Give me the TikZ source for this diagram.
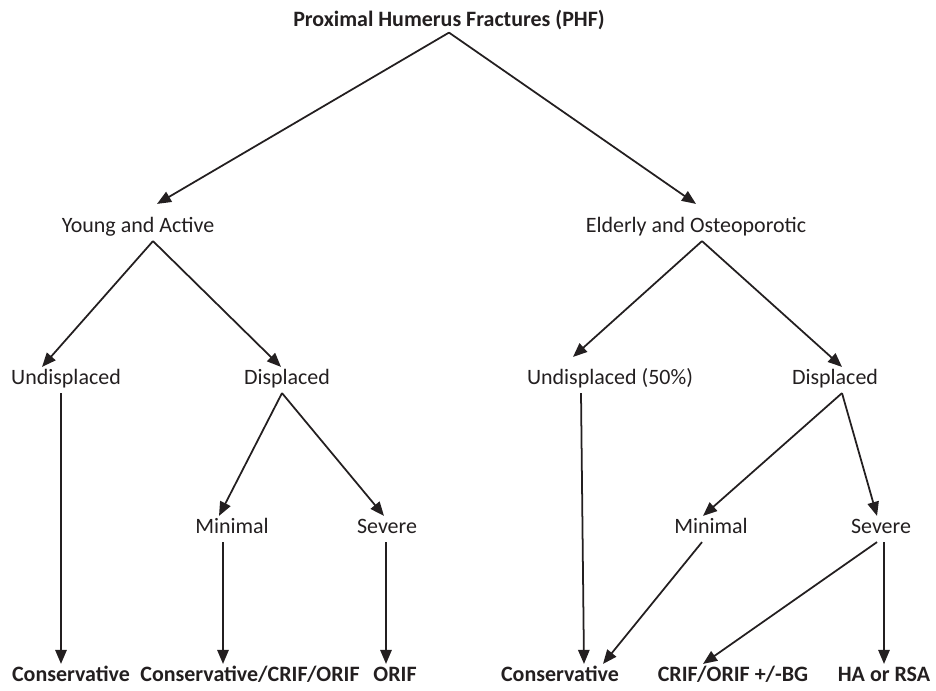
\documentclass[tikz,border=0pt]{standalone}
\usepackage{fontspec}
\setmainfont{Carlito}
\usetikzlibrary{arrows.meta}
\definecolor{ink}{RGB}{35,31,32}

\begin{document}
\begin{tikzpicture}[
    x=0.02cm, y=-0.02cm,
    lab/.style={text=ink, font=\fontsize{12.5}{14}\selectfont, text height=8pt, text depth=2.5pt, inner xsep=1pt, inner ysep=2pt},
    head/.style={lab, font=\fontsize{12.5}{14}\selectfont\bfseries},
    arr/.style={-{Triangle[length=8pt,width=6.5pt]}, line width=1pt, draw=ink}
]
\useasboundingbox (0,0) rectangle (936,690);
% ---------------- top level ----------------
\node[head] (phf) at (449,22) {Proximal Humerus Fractures (PHF)};
\node[lab] (yng) at (138,228) {Young and Active};
\node[lab] (eld) at (696,228) {Elderly and Osteoporotic};
\draw[arr] ([yshift=0.05cm]phf.south) -- ([xshift=0.38cm,yshift=0.22cm]yng.north);
\draw[arr] ([yshift=0.05cm]phf.south) -- ([yshift=0.22cm]eld.north);
% ---------------- young and active ----------------
\node[lab] (undL) at (66,380) {Undisplaced};
\node[lab] (disL) at (287,380) {Displaced};
\node[lab] (minL) at (232,529) {Minimal};
\node[lab] (sevL) at (387,529) {Severe};
\node[head] (consL) at (71,677) {Conservative};
\node[head] (cons2) at (250,677) {Conservative/CRIF/ORIF};
\node[head] (orif) at (395,677) {ORIF};
\draw[arr] ([xshift=0.3cm]yng.south) -- ([xshift=-0.48cm]undL.north);
\draw[arr] ([xshift=0.3cm]yng.south) -- ([xshift=-0.12cm]disL.north);
\draw[arr] ([xshift=-0.1cm]undL.south) -- ([xshift=-0.2cm]consL.north);
\draw[arr] ([xshift=-0.1cm]disL.south) -- ([xshift=-0.26cm]minL.north);
\draw[arr] ([xshift=-0.1cm]disL.south) -- ([xshift=-0.06cm]sevL.north);
\draw[arr] ([xshift=-0.18cm]minL.south) -- ([xshift=-0.54cm]cons2.north);
\draw[arr] ([xshift=-0.02cm]sevL.south) -- ([xshift=-0.18cm]orif.north);
% ---------------- elderly and osteoporotic ----------------
\node[lab] (undR) at (610,380) {Undisplaced (50\%)};
\node[lab] (disR) at (835,380) {Displaced};
\node[lab] (minR) at (711,529) {Minimal};
\node[lab] (sevR) at (881,529) {Severe};
\node[head] (consR) at (560,677) {Conservative};
\node[head] (crif) at (733,677) {CRIF/ORIF +/-BG};
\node[head] (ha) at (884,677) {HA or RSA};
\draw[arr] ([xshift=0.12cm]eld.south) -- ([xshift=-0.74cm,yshift=0.2cm]undR.north);
\draw[arr] ([xshift=0.12cm]eld.south) -- ([xshift=0.14cm]disR.north);
\draw[arr] ([xshift=-0.58cm]undR.south) -- ([xshift=0.48cm]consR.north);
\draw[arr] ([xshift=0.14cm]disR.south) -- ([xshift=-0.16cm]minR.north);
\draw[arr] ([xshift=0.14cm]disR.south) -- ([xshift=-0.08cm]sevR.north);
\draw[arr] ([xshift=-0.18cm]minR.south) -- ([xshift=0.86cm]consR.north);
\draw[arr] ([xshift=-0.08cm]sevR.south) -- ([xshift=-0.6cm]crif.north);
\draw[arr] ([xshift=0.06cm]sevR.south) -- (ha.north);
\end{tikzpicture}
\end{document}
